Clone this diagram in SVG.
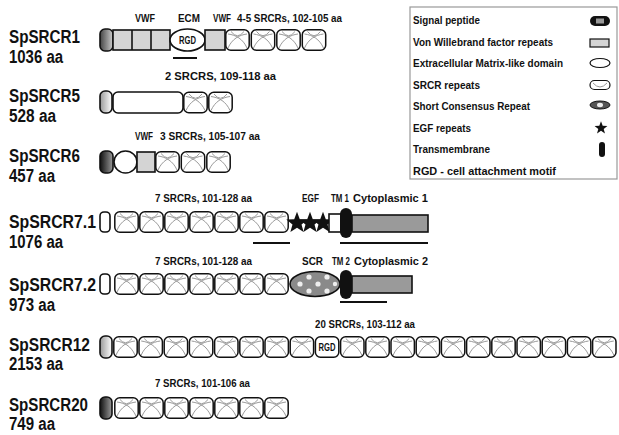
<svg xmlns="http://www.w3.org/2000/svg" xmlns:xlink="http://www.w3.org/1999/xlink" width="619" height="435" viewBox="0 0 619 435">
<defs>
<style>
.name{font-family:"Liberation Sans",Arial,sans-serif;font-weight:bold;font-size:18px;fill:#111}
.lab{font-family:"Liberation Sans",Arial,sans-serif;font-weight:bold;font-size:10px;fill:#111}
.leg{font-family:"Liberation Sans",Arial,sans-serif;font-weight:bold;font-size:11px;fill:#111}
.dom{stroke:#111;stroke-width:1.6}
.vwf{fill:#d4d4d4;stroke:#111;stroke-width:1.6}
.cyto{fill:#9a9a9a;stroke:#111;stroke-width:1.6}
.ul{stroke:#111;stroke-width:2}
</style>
<linearGradient id="sigDark" x1="0" y1="0" x2="1" y2="0"><stop offset="0" stop-color="#111"/><stop offset="1" stop-color="#9a9a9a"/></linearGradient>
<linearGradient id="sigMid" x1="0" y1="0" x2="1" y2="0"><stop offset="0" stop-color="#444"/><stop offset="1" stop-color="#ccc"/></linearGradient>
<linearGradient id="sigLight" x1="0" y1="0" x2="1" y2="0"><stop offset="0" stop-color="#999"/><stop offset="1" stop-color="#fff"/></linearGradient>
<symbol id="srcr" viewBox="0 0 25 22" width="25" height="22" overflow="visible">
<rect x="0.8" y="0.8" width="23.4" height="20.4" rx="5" fill="#fff" stroke="#111" stroke-width="1.5"/>
<path d="M3,19 C7,10 14,6 22,5 M3,5 C11,6 18,10 22,19 M6,2.5 Q12.5,11 19,2.5" fill="none" stroke="#9a9a9a" stroke-width="1"/>
</symbol>
<polygon id="star" points="0,-9 2.23,-3.07 8.56,-2.78 3.61,1.17 5.29,7.28 0,3.8 -5.29,7.28 -3.61,1.17 -8.56,-2.78 -2.23,-3.07" fill="#111"/>
</defs>
<rect width="619" height="435" fill="#fff"/>

<!-- SpSRCR1 -->
<g id="SpSRCR1">
<text class="name" x="9" y="43" textLength="71" lengthAdjust="spacingAndGlyphs">SpSRCR1</text>
<text class="name" x="9" y="63" textLength="54" lengthAdjust="spacingAndGlyphs">1036 aa</text>
<text class="lab" x="135" y="22" textLength="20" lengthAdjust="spacingAndGlyphs">VWF</text>
<text class="lab" x="178" y="22" textLength="22" lengthAdjust="spacingAndGlyphs">ECM</text>
<text class="lab" x="213" y="22" textLength="18" lengthAdjust="spacingAndGlyphs">VWF</text>
<text class="lab" x="237" y="22" textLength="105" lengthAdjust="spacingAndGlyphs">4-5 SRCRs, 102-105 aa</text>
<rect x="100" y="29" width="13" height="22" rx="5" fill="url(#sigMid)" class="dom"/>
<rect x="113" y="30" width="57" height="20" class="vwf"/>
<line x1="132" y1="30" x2="132" y2="50" class="dom"/>
<line x1="151" y1="30" x2="151" y2="50" class="dom"/>
<ellipse cx="187.5" cy="40" rx="17.5" ry="11" fill="#fff" class="dom"/>
<text class="lab" x="187.5" y="44" text-anchor="middle" textLength="17" lengthAdjust="spacingAndGlyphs">RGD</text>
<rect x="205" y="30" width="20" height="20" class="vwf"/>
<use href="#srcr" x="225" y="29"/>
<use href="#srcr" x="250.5" y="29"/>
<use href="#srcr" x="276" y="29"/>
<use href="#srcr" x="301.5" y="29"/>
</g>

<!-- SpSRCR5 -->
<g id="SpSRCR5">
<text class="name" x="9" y="102" textLength="71" lengthAdjust="spacingAndGlyphs">SpSRCR5</text>
<text class="name" x="9" y="122" textLength="47" lengthAdjust="spacingAndGlyphs">528 aa</text>
<text class="lab" x="165" y="80" textLength="111" lengthAdjust="spacingAndGlyphs">2 SRCRS, 109-118 aa</text>
<rect x="100" y="91" width="12" height="22" rx="5" fill="url(#sigLight)" class="dom"/>
<rect x="113" y="92" width="70" height="21" rx="5" fill="#fff" class="dom"/>
<use href="#srcr" x="183" y="91.5"/>
<use href="#srcr" x="208" y="91.5"/>
</g>

<!-- SpSRCR6 -->
<g id="SpSRCR6">
<text class="name" x="9" y="162" textLength="71" lengthAdjust="spacingAndGlyphs">SpSRCR6</text>
<text class="name" x="9" y="182" textLength="46" lengthAdjust="spacingAndGlyphs">457 aa</text>
<text class="lab" x="135" y="140" textLength="18" lengthAdjust="spacingAndGlyphs">VWF</text>
<text class="lab" x="160" y="140" textLength="100" lengthAdjust="spacingAndGlyphs">3 SRCRs, 105-107 aa</text>
<rect x="100" y="151" width="13" height="22" rx="5" fill="url(#sigDark)" class="dom"/>
<ellipse cx="125.5" cy="162" rx="11.5" ry="11" fill="#fff" class="dom"/>
<rect x="137" y="152" width="18" height="20" class="vwf"/>
<use href="#srcr" x="155" y="151"/>
<use href="#srcr" x="180.5" y="151"/>
<use href="#srcr" x="206" y="151"/>
</g>

<!-- SpSRCR7.1 -->
<g id="SpSRCR7.1">
<text class="name" x="9" y="228" textLength="87" lengthAdjust="spacingAndGlyphs">SpSRCR7.1</text>
<text class="name" x="9" y="248" textLength="54" lengthAdjust="spacingAndGlyphs">1076 aa</text>
<text class="lab" x="155" y="202" textLength="97" lengthAdjust="spacingAndGlyphs">7 SRCRs, 101-128 aa</text>
<text class="lab" x="302" y="202" textLength="17" lengthAdjust="spacingAndGlyphs">EGF</text>
<text class="lab" x="331" y="202" textLength="18" lengthAdjust="spacingAndGlyphs">TM 1</text>
<text class="lab" x="353" y="202" textLength="75" lengthAdjust="spacingAndGlyphs">Cytoplasmic 1</text>
<rect x="100" y="212" width="10" height="20" rx="4" fill="#fff" class="dom"/>
<use href="#srcr" x="114" y="211"/>
<use href="#srcr" x="139" y="211"/>
<use href="#srcr" x="164" y="211"/>
<use href="#srcr" x="189" y="211"/>
<use href="#srcr" x="214" y="211"/>
<use href="#srcr" x="239" y="211"/>
<use href="#srcr" x="264" y="211"/>
<use href="#star" transform="translate(297,223) scale(1.25)"/>
<use href="#star" transform="translate(310,223) scale(1.25)"/>
<use href="#star" transform="translate(323,223) scale(1.25)"/>
<rect x="329" y="214" width="15" height="18" fill="#fff" class="dom"/>
<rect x="352" y="215" width="76" height="17" class="cyto"/>
<rect x="340" y="208" width="12" height="30" rx="6" fill="#111"/>
</g>

<!-- SpSRCR7.2 -->
<g id="SpSRCR7.2">
<text class="name" x="9" y="291" textLength="87" lengthAdjust="spacingAndGlyphs">SpSRCR7.2</text>
<text class="name" x="9" y="311" textLength="46" lengthAdjust="spacingAndGlyphs">973 aa</text>
<text class="lab" x="155" y="265" textLength="97" lengthAdjust="spacingAndGlyphs">7 SRCRs, 101-128 aa</text>
<text class="lab" x="302" y="265" textLength="21" lengthAdjust="spacingAndGlyphs">SCR</text>
<text class="lab" x="332" y="265" textLength="18" lengthAdjust="spacingAndGlyphs">TM 2</text>
<text class="lab" x="354" y="265" textLength="74" lengthAdjust="spacingAndGlyphs">Cytoplasmic 2</text>
<rect x="100" y="274" width="10" height="20" rx="4" fill="#fff" class="dom"/>
<use href="#srcr" x="114" y="273"/>
<use href="#srcr" x="139" y="273"/>
<use href="#srcr" x="164" y="273"/>
<use href="#srcr" x="189" y="273"/>
<use href="#srcr" x="214" y="273"/>
<use href="#srcr" x="239" y="273"/>
<use href="#srcr" x="264" y="273"/>
<ellipse cx="315" cy="284" rx="25" ry="12.5" fill="#8a8a8a" class="dom"/>
<g fill="#eee">
<circle cx="300" cy="284" r="2.6"/>
<circle cx="309" cy="277" r="2.6"/>
<circle cx="309" cy="291" r="2.6"/>
<circle cx="318" cy="284" r="2.6"/>
<circle cx="327" cy="277" r="2.6"/>
<circle cx="327" cy="291" r="2.6"/>
<circle cx="335" cy="284" r="2.2"/>
</g>
<rect x="352" y="276" width="60" height="17" class="cyto"/>
<rect x="340" y="270" width="12" height="29" rx="6" fill="#111"/>
</g>

<!-- SpSRCR12 -->
<g id="SpSRCR12">
<text class="name" x="9" y="351" textLength="81" lengthAdjust="spacingAndGlyphs">SpSRCR12</text>
<text class="name" x="9" y="370" textLength="54" lengthAdjust="spacingAndGlyphs">2153 aa</text>
<text class="lab" x="315" y="328" textLength="100" lengthAdjust="spacingAndGlyphs">20 SRCRs, 103-112 aa</text>
<rect x="100" y="336" width="12" height="22" rx="5" fill="url(#sigLight)" class="dom"/>
<use href="#srcr" x="113" y="336"/>
<use href="#srcr" x="138.2" y="336"/>
<use href="#srcr" x="163.4" y="336"/>
<use href="#srcr" x="188.6" y="336"/>
<use href="#srcr" x="213.8" y="336"/>
<use href="#srcr" x="239" y="336"/>
<use href="#srcr" x="264.2" y="336"/>
<use href="#srcr" x="289.4" y="336"/>
<rect x="315.4" y="336.8" width="23.4" height="20.4" rx="5" fill="#fff" stroke="#111" stroke-width="1.5"/>
<text class="lab" x="327.1" y="351" text-anchor="middle" textLength="17" lengthAdjust="spacingAndGlyphs">RGD</text>
<use href="#srcr" x="339.8" y="336"/>
<use href="#srcr" x="365" y="336"/>
<use href="#srcr" x="390.2" y="336"/>
<use href="#srcr" x="415.4" y="336"/>
<use href="#srcr" x="440.6" y="336"/>
<use href="#srcr" x="465.8" y="336"/>
<use href="#srcr" x="491" y="336"/>
<use href="#srcr" x="516.2" y="336"/>
<use href="#srcr" x="541.4" y="336"/>
<use href="#srcr" x="566.6" y="336"/>
<use href="#srcr" x="591.8" y="336"/>
</g>

<!-- SpSRCR20 -->
<g id="SpSRCR20">
<text class="name" x="9" y="411" textLength="79" lengthAdjust="spacingAndGlyphs">SpSRCR20</text>
<text class="name" x="9" y="430" textLength="46" lengthAdjust="spacingAndGlyphs">749 aa</text>
<text class="lab" x="155" y="387" textLength="95" lengthAdjust="spacingAndGlyphs">7 SRCRs, 101-106 aa</text>
<rect x="100" y="397" width="12" height="22" rx="5" fill="url(#sigDark)" class="dom"/>
<use href="#srcr" x="114" y="397"/>
<use href="#srcr" x="139" y="397"/>
<use href="#srcr" x="164" y="397"/>
<use href="#srcr" x="189" y="397"/>
<use href="#srcr" x="214" y="397"/>
<use href="#srcr" x="239" y="397"/>
<use href="#srcr" x="264" y="397"/>
</g>

<!-- underline marks -->
<g id="connectors">
<line x1="173" y1="58" x2="197" y2="58" class="ul"/>
<line x1="253" y1="243" x2="290" y2="243" class="ul"/>
<line x1="340" y1="243" x2="428" y2="243" class="ul"/>
<line x1="340" y1="302" x2="387" y2="302" class="ul"/>
</g>

<!-- Legend -->
<g id="legend">
<rect x="410" y="7" width="207" height="172" fill="#fff" stroke="#999" stroke-width="1.2"/>
<text class="leg" x="413" y="24" textLength="67" lengthAdjust="spacingAndGlyphs">Signal peptide</text>
<text class="leg" x="413" y="46" textLength="140" lengthAdjust="spacingAndGlyphs">Von Willebrand factor repeats</text>
<text class="leg" x="413" y="67" textLength="150" lengthAdjust="spacingAndGlyphs">Extracellular Matrix-like domain</text>
<text class="leg" x="413" y="89" textLength="67" lengthAdjust="spacingAndGlyphs">SRCR repeats</text>
<text class="leg" x="413" y="110" textLength="117" lengthAdjust="spacingAndGlyphs">Short Consensus Repeat</text>
<text class="leg" x="413" y="132" textLength="58" lengthAdjust="spacingAndGlyphs">EGF repeats</text>
<text class="leg" x="413" y="153" textLength="77" lengthAdjust="spacingAndGlyphs">Transmembrane</text>
<text class="leg" x="413" y="175" textLength="143" lengthAdjust="spacingAndGlyphs">RGD - cell attachment motif</text>
<rect x="590" y="16" width="20" height="10" rx="5" fill="#111"/>
<rect x="596" y="18.5" width="8" height="5" fill="#999"/>
<rect x="590" y="39" width="19" height="8" fill="#d4d4d4" stroke="#111" stroke-width="1.2"/>
<ellipse cx="600" cy="63" rx="10" ry="4.5" fill="#fff" stroke="#111" stroke-width="1.2"/>
<rect x="590" y="80.5" width="20" height="9" rx="4.5" fill="#fff" stroke="#111" stroke-width="1.2"/>
<path d="M593,83 Q600,91 607,83" fill="none" stroke="#999" stroke-width="1"/>
<ellipse cx="600" cy="105" rx="10" ry="4" fill="#555" stroke="#111" stroke-width="1"/>
<ellipse cx="600" cy="105" rx="3" ry="2.2" fill="#eee"/>
<use href="#star" transform="translate(601,128) scale(0.75)"/>
<rect x="599" y="142" width="6" height="15" rx="3" fill="#111"/>
</g>
</svg>
